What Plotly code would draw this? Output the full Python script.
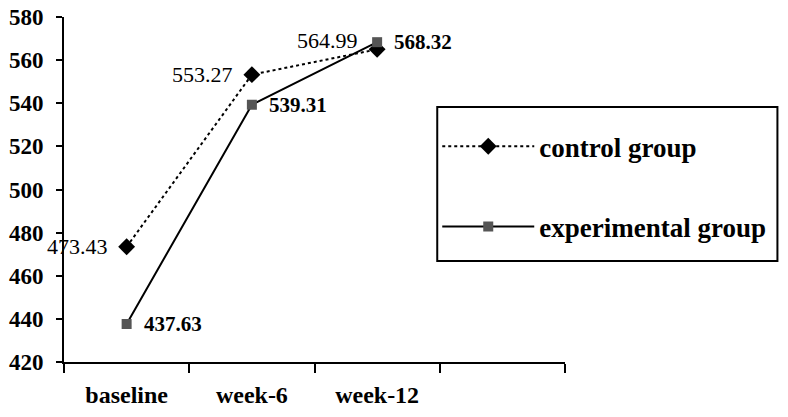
import plotly.graph_objects as go

weeks = ["baseline", "week-6", "week-12"]
control = [473.43, 553.27, 564.99]
experimental = [437.63, 539.31, 568.32]
y_ticks = [420, 440, 460, 480, 500, 520, 540, 560, 580]

serif = "Liberation Serif, Times New Roman, serif"
xpos = list(range(len(weeks)))

fig = go.Figure()
fig.add_trace(go.Scatter(
    x=xpos, y=control, name="control group", mode="lines+markers",
    line=dict(color="black", width=2, dash="dot"),
    marker=dict(symbol="diamond", size=13, color="black"),
    legendgroup="a",
))
fig.add_trace(go.Scatter(
    x=xpos, y=experimental, name="experimental group", mode="lines+markers",
    line=dict(color="black", width=2),
    marker=dict(symbol="square", size=10, color="#555555"),
    legendgroup="b",
))

# value labels
for i, v in enumerate(control):
    fig.add_annotation(x=xpos[i], y=v, text=f"{v:.2f}", showarrow=False,
                       xanchor="right", xshift=-17, yshift=9 if i == 2 else 0,
                       font=dict(family=serif, size=22, color="black"))
for i, v in enumerate(experimental):
    fig.add_annotation(x=xpos[i], y=v, text=f"<b>{v:.2f}</b>", showarrow=False,
                       xanchor="left", xshift=15,
                       font=dict(family=serif, size=21, color="black"))

# legend frame
fig.add_shape(type="rect", xref="paper", yref="paper",
              x0=0.745, x1=1.424, y0=0.293, y1=0.739,
              line=dict(color="black", width=2), fillcolor="rgba(0,0,0,0)")

fig.update_layout(
    width=772, height=401,
    margin=dict(l=56, r=215, t=9, b=47),
    plot_bgcolor="white", paper_bgcolor="white",
    font=dict(family=serif, color="black"),
    legend=dict(
        x=0.745, y=0.695, xanchor="left", yanchor="top",
        borderwidth=0, bgcolor="rgba(0,0,0,0)",
        font=dict(family=serif, size=27, color="black", weight="bold"),
        tracegroupgap=42, itemwidth=92,
    ),
    xaxis=dict(
        range=[-0.5, 3.5], showgrid=False, zeroline=False, automargin=False,
        showline=True, linecolor="black", linewidth=2,
        tickvals=xpos, ticktext=weeks, ticks="",
        tickfont=dict(family=serif, size=24, weight="bold"),
        ticklabelstandoff=10, ticklabeloverflow="allow",
        minor=dict(tickvals=[-0.5, 0.5, 1.5, 2.5, 3.5], ticks="outside",
                   ticklen=9, tickwidth=2, tickcolor="black", showgrid=False),
    ),
    yaxis=dict(
        range=[420, 580], tickvals=y_ticks, showgrid=False, zeroline=False,
        automargin=False,
        showline=True, linecolor="black", linewidth=2,
        ticks="outside", ticklen=6, tickwidth=2, tickcolor="black",
        tickfont=dict(family=serif, size=23, weight="bold"),
        ticklabelstandoff=8, ticklabeloverflow="allow",
    ),
)

fig.write_html("out.html")
